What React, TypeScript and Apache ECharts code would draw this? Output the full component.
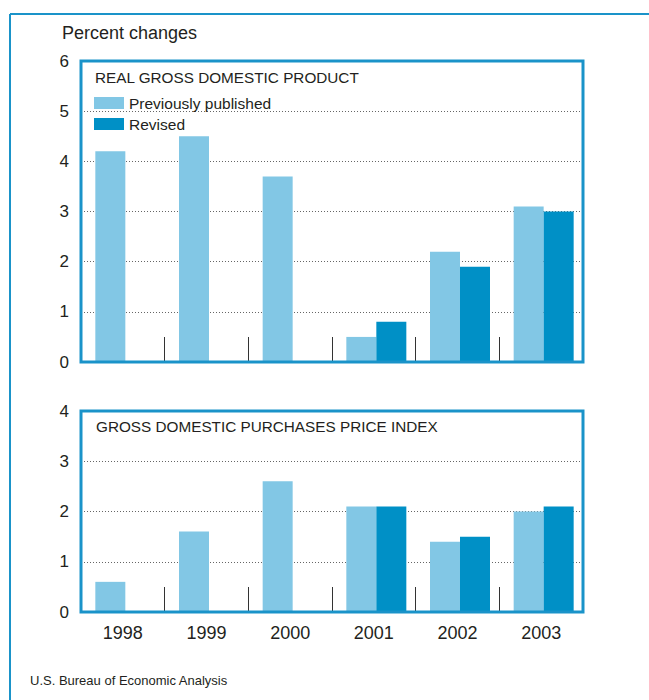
import React, { useEffect, useRef } from "react";
import * as echarts from "echarts";

const years = ["1998", "1999", "2000", "2001", "2002", "2003"];
const gdpPrev = [4.2, 4.5, 3.7, 0.5, 2.2, 3.1];
const gdpRev = [null, null, null, 0.8, 1.9, 3.0];
const pricePrev = [0.6, 1.6, 2.6, 2.1, 1.4, 2.0];
const priceRev = [null, null, null, 2.1, 1.5, 2.1];
const emptySlot = [null, null, null, null, null, null];
const gdpTicks = [0, 1, 2, 3, 4, 5, 6];
const priceTicks = [0, 1, 2, 3, 4];

const LIGHT = "#82c7e5";
const DARK = "#0090c6";
const FRAME = "#1a93c9";
const TEXT = "#231f20";
const FONT = "Liberation Sans, Arial, Helvetica, sans-serif";

export default function App() {
  const ref = useRef<HTMLDivElement>(null);
  useEffect(() => {
    if (!ref.current) return;
    const chart = echarts.init(ref.current, null, { renderer: "svg" });
    const grids = [
      { left: 81, top: 61, width: 502, height: 301 },
      { left: 81, top: 411, width: 502, height: 201 },
    ];
    const yAxis = (ticks: number[], gi: number) => ({
      type: "value",
      gridIndex: gi,
      min: ticks[0],
      max: ticks[ticks.length - 1],
      interval: 1,
      axisLine: { show: false },
      axisTick: { show: false },
      axisLabel: { color: TEXT, fontSize: 17, fontFamily: FONT, margin: 12 },
      splitLine: { show: true, lineStyle: { color: "#666", width: 1, type: [1, 2] } },
    });
    const xAxis = (gi: number, showLabels: boolean) => ({
      type: "category",
      gridIndex: gi,
      data: years,
      boundaryGap: true,
      axisLine: { show: false },
      axisTick: { show: true, inside: true, length: 25, lineStyle: { color: "#333", width: 1 } },
      axisLabel: { show: showLabels, color: TEXT, fontSize: 18, fontFamily: FONT, margin: 12 },
      splitLine: { show: false },
    });
    const bar = (name: string, data: (number | null)[], color: string, gi: number, w = 30) => ({
      type: "bar",
      name,
      data,
      xAxisIndex: gi,
      yAxisIndex: gi,
      barWidth: w,
      barGap: "0%",
      itemStyle: { color },
      emphasis: { disabled: true },
      silent: true,
    });
    const frameRect = (g: any) => ({
      type: "rect",
      z: 100,
      silent: true,
      shape: { x: g.left, y: g.top, width: g.width, height: g.height },
      style: { fill: "none", stroke: FRAME, lineWidth: 3 },
    });
    chart.setOption({
      animation: false,
      grid: grids,
      xAxis: [xAxis(0, false), xAxis(1, true)],
      yAxis: [yAxis(gdpTicks, 0), yAxis(priceTicks, 1)],
      legend: {
        data: ["Previously published", "Revised"],
        orient: "vertical",
        left: 94,
        top: 95,
        padding: 0,
        itemWidth: 30,
        itemHeight: 12,
        itemGap: 5,
        icon: "rect",
        selectedMode: false,
        textStyle: { color: TEXT, fontSize: 15.5, fontFamily: FONT },
      },
      title: [
        {
          text: "REAL GROSS DOMESTIC PRODUCT",
          left: 95,
          top: 70,
          textStyle: { color: TEXT, fontSize: 15.3, fontWeight: "normal", fontFamily: FONT },
          padding: 0,
        },
        {
          text: "GROSS DOMESTIC PURCHASES PRICE INDEX",
          left: 96,
          top: 419,
          textStyle: { color: TEXT, fontSize: 15.3, fontWeight: "normal", fontFamily: FONT },
          padding: 0,
        },
      ],
      graphic: [
        {
          type: "line",
          silent: true,
          shape: { x1: 10, y1: 14, x2: 649, y2: 14 },
          style: { stroke: FRAME, lineWidth: 2 },
        },
        {
          type: "line",
          silent: true,
          shape: { x1: 10, y1: 14, x2: 10, y2: 700 },
          style: { stroke: FRAME, lineWidth: 2 },
        },
        frameRect(grids[0]),
        frameRect(grids[1]),
        {
          type: "text",
          left: 62,
          top: 24,
          style: { text: "Percent changes", fill: TEXT, fontSize: 18, fontFamily: FONT },
        },
        {
          type: "text",
          left: 30,
          top: 674,
          style: { text: "U.S. Bureau of Economic Analysis", fill: TEXT, fontSize: 13, fontFamily: FONT },
        },
      ],
      series: [
        bar("spacer", emptySlot, "rgba(0,0,0,0)", 0, 5),
        bar("Previously published", gdpPrev, LIGHT, 0),
        bar("Revised", gdpRev, DARK, 0),
        bar("spacer", emptySlot, "rgba(0,0,0,0)", 1, 5),
        bar("Previously published", pricePrev, LIGHT, 1),
        bar("Revised", priceRev, DARK, 1),
      ],
    });
    return () => chart.dispose();
  }, []);
  return (
    <div
      ref={ref}
      style={{ position: "fixed", left: 0, top: 0, width: 649, height: 700, background: "#fff" }}
    />
  );
}
